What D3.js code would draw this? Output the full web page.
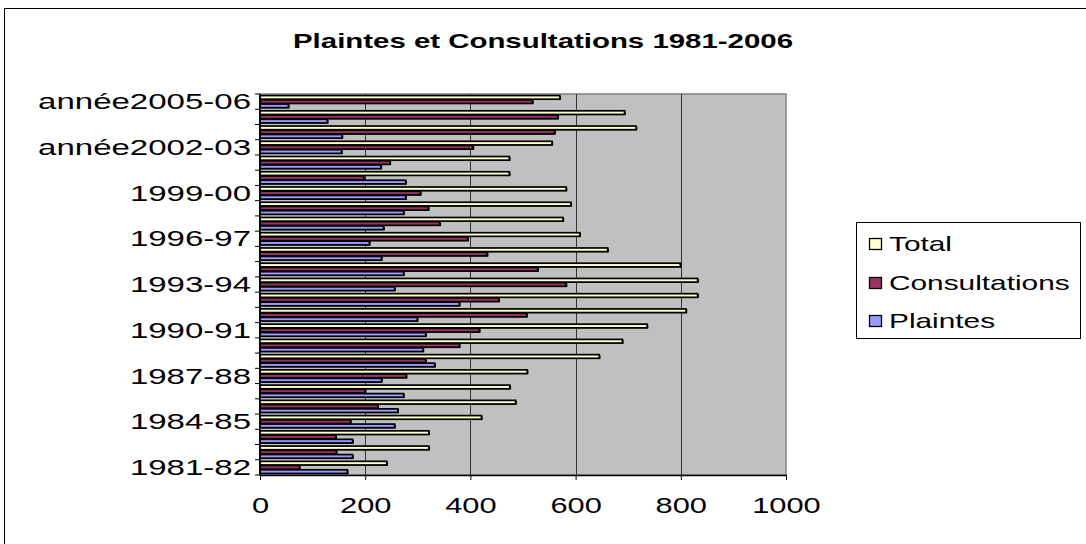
<!DOCTYPE html>
<html><head><meta charset="utf-8">
<script src="https://cdn.jsdelivr.net/npm/d3@7"></script>
<style>body{margin:0;background:#fff;overflow:hidden}</style>
</head><body><svg id="c" width="1086" height="544"></svg>
<script>
const categories = ["1981-82","1982-83","1983-84","1984-85","1985-86","1986-87","1987-88","1988-89","1989-90","1990-91","1991-92","1992-93","1993-94","1994-95","1995-96","1996-97","1997-98","1998-99","1999-00","2000-01","2001-02","année2002-03","année2003-04","année2004-05","année2005-06"];
const labelledCategories = ["1981-82","1984-85","1987-88","1990-91","1993-94","1996-97","1999-00","année2002-03","année2005-06"];
const plaintes      = [166,176,176,256,262,273,231,332,310,315,299,379,256,273,231,208,235,273,277,277,230,155,156,128,54];
const consultations = [75,145,144,172,224,200,278,315,379,417,507,454,582,528,432,395,342,320,305,197,247,405,560,566,518];
const total         = [241,321,321,421,486,475,508,645,689,736,810,832,832,799,661,608,576,591,582,474,474,555,715,693,570];
const seriesNames = ["Total","Consultations","Plaintes"];
const seriesColors = ["#ffffcc","#993366","#9999ff"];
const xTicks = [0,200,400,600,800,1000];
const title = "Plaintes et Consultations 1981-2006";

const SX = 1.45;
const FONT = "'Liberation Sans', Arial, sans-serif";
function stretch(sel, f) {
  sel.each(function(){
    const len = this.getComputedTextLength();
    d3.select(this).attr("textLength", len * (f || SX)).attr("lengthAdjust", "spacingAndGlyphs");
  });
}

const svg = d3.select("#c");
const L = 260, R = 786, T = 94, B = 475;

// outer frame
svg.append("rect").attr("x",4.5).attr("y",8.5).attr("width",1200).attr("height",700)
  .attr("fill","#fff").attr("stroke","#000").attr("stroke-width",1);

const x = d3.scaleLinear().domain([0,1000]).range([L,R]);
const y = d3.scaleBand().domain(categories).range([B,T]).padding(0);
const yi = d3.scaleBand().domain(seriesNames).range([0,y.bandwidth()]).paddingInner(0).paddingOuter(0.3);

// plot area
svg.append("rect").attr("x",L).attr("y",T).attr("width",R-L).attr("height",B-T)
  .attr("fill","#c0c0c0").attr("stroke","#808080").attr("stroke-width",1.5);

// gridlines
svg.append("g").selectAll("line").data(xTicks.filter(v=>v>0 && v<1000)).join("line")
  .attr("x1",d=>Math.round(x(d))+0.5).attr("x2",d=>Math.round(x(d))+0.5)
  .attr("y1",T).attr("y2",B).attr("stroke","#333").attr("stroke-width",1);

// bars
const data = categories.map((c,i)=>({c, vals:[total[i],consultations[i],plaintes[i]]}));
const g = svg.append("g");
const bh = yi.bandwidth();
data.forEach(d=>{
  seriesNames.forEach((s,k)=>{
    const yy = y(d.c) + yi(s);
    // shadow
    g.append("rect")
      .attr("x",x(0)+1.2).attr("y",yy+0.9)
      .attr("width",x(d.vals[k])-x(0)).attr("height",bh-0.6)
      .attr("fill","#000");
    g.append("rect")
      .attr("x",x(0)).attr("y",yy+0.3)
      .attr("width",x(d.vals[k])-x(0)).attr("height",bh-0.6)
      .attr("fill",seriesColors[k]).attr("stroke","#000").attr("stroke-width",1.7);
  });
});

// x axis
const xa = svg.append("g").attr("transform",`translate(0,${B})`)
  .call(d3.axisBottom(x).tickValues(xTicks).tickFormat(d3.format("d")).tickSize(5).tickSizeOuter(0));
xa.select(".domain").attr("stroke","#000").attr("stroke-width",1.5);
xa.selectAll(".tick line").attr("stroke","#000");
xa.selectAll("text").attr("font-family",FONT).attr("font-size",22).attr("fill","#000").attr("dy","0.35em").attr("y",30);
stretch(xa.selectAll("text"), 1.4);

// y axis
svg.append("line").attr("x1",L).attr("x2",L).attr("y1",T).attr("y2",B).attr("stroke","#000").attr("stroke-width",1.5);
svg.append("g").selectAll("line").data(d3.range(categories.length+1)).join("line")
  .attr("x1",L-5).attr("x2",L).attr("y1",i=>B - i*y.step()).attr("y2",i=>B - i*y.step())
  .attr("stroke","#000");
const yl = svg.append("g").selectAll("text").data(labelledCategories).join("text")
  .attr("x",L-9).attr("y",d=>y(d)+y.bandwidth()/2).attr("dy","0.35em")
  .attr("text-anchor","end").attr("font-family",FONT).attr("font-size",22).attr("fill","#000")
  .text(d=>d);
stretch(yl, 1.5);

// title
const tt = svg.append("text").attr("x",543).attr("y",48).attr("text-anchor","middle")
  .attr("font-family",FONT).attr("font-weight","bold").attr("font-size",21).text(title);
stretch(tt, 1.4);

// legend
const lg = svg.append("g");
lg.append("rect").attr("x",856.5).attr("y",222.5).attr("width",224).attr("height",116)
  .attr("fill","#fff").attr("stroke","#000");
const legY = [244,283,321];
seriesNames.forEach((s,k)=>{
  lg.append("rect").attr("x",869.5).attr("y",legY[k]-5.5).attr("width",12).attr("height",11)
    .attr("fill",seriesColors[k]).attr("stroke","#000").attr("stroke-width",1.3);
  const t = lg.append("text").attr("x",889).attr("y",legY[k]).attr("dy","0.35em")
    .attr("font-family",FONT).attr("font-size",21).attr("fill","#000").text(s);
  stretch(t, 1.42);
});
</script>
</body></html>
